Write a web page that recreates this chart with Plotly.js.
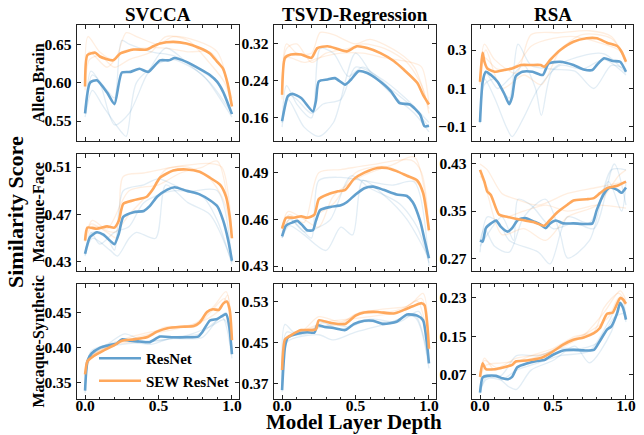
<!DOCTYPE html>
<html>
<head>
<meta charset="utf-8">
<script src="https://cdn.plot.ly/plotly-3.0.1.min.js"></script>
<style>html,body{margin:0;padding:0;background:#fff;}#chart{width:644px;height:435px;}</style>
</head>
<body>
<div id="chart"></div>
<script>
// ---------------- DATA ----------------
const methods = ['SVCCA', 'TSVD-Regression', 'RSA'];
const datasets = ['Allen Brain', 'Macaque-Face', 'Macaque-Synthetic'];
const modelNames = ['ResNet', 'SEW ResNet'];
const xTickVals = [0, 0.5, 1];
const xTickText = ['0.0', '0.5', '1.0'];
const yTickVals = [[0.55, 0.60, 0.65], [0.16, 0.24, 0.32], [-0.1, 0.1, 0.3],
                   [0.43, 0.47, 0.51], [0.43, 0.46, 0.49], [0.27, 0.35, 0.43],
                   [0.35, 0.40, 0.45], [0.37, 0.45, 0.53], [0.07, 0.15, 0.23]];
const yTickText = [['0.55', '0.60', '0.65'], ['0.16', '0.24', '0.32'], ['\u22120.1', '0.1', '0.3'],
                   ['0.43', '0.47', '0.51'], ['0.43', '0.46', '0.49'], ['0.27', '0.35', '0.43'],
                   ['0.35', '0.40', '0.45'], ['0.37', '0.45', '0.53'], ['0.07', '0.15', '0.23']];

// Panel 1: SVCCA / Allen Brain
const svccaAllenResNetX = [0,0.034,0.08,0.15,0.2,0.25,0.31,0.37,0.43,0.51,0.57,0.61,0.69,0.78,0.85,0.9,0.94,1.0];
const svccaAllenResNetY = [0.56,0.60,0.603,0.587,0.572,0.613,0.614,0.618,0.614,0.629,0.629,0.632,0.627,0.618,0.61,0.601,0.588,0.559];
const svccaAllenSewX = [0,0.016,0.07,0.1,0.19,0.24,0.33,0.42,0.46,0.51,0.6,0.69,0.78,0.85,0.9,0.94,0.97,1.0];
const svccaAllenSewY = [0.595,0.636,0.639,0.634,0.629,0.638,0.643,0.643,0.647,0.651,0.653,0.651,0.645,0.638,0.627,0.618,0.599,0.569];
const svccaAllenResNetRunsX = [[0,0.05,0.15,0.2,0.25,0.3,0.45,0.6,0.75,0.9,1],[0,0.05,0.12,0.25,0.28,0.35,0.5,0.6,0.8,0.95,1],[0,0.04,0.1,0.2,0.3,0.42,0.55,0.7,0.85,1]];
const svccaAllenResNetRunsY = [[0.56,0.61,0.59,0.58,0.655,0.65,0.64,0.635,0.62,0.60,0.56],[0.555,0.59,0.57,0.535,0.53,0.60,0.625,0.63,0.61,0.57,0.555],[0.56,0.615,0.60,0.545,0.56,0.61,0.645,0.625,0.60,0.56]];
const svccaAllenSewRunsX = [[0,0.02,0.1,0.2,0.28,0.35,0.5,0.6,0.75,0.9,1],[0,0.03,0.1,0.2,0.3,0.45,0.55,0.7,0.85,0.95,1],[0,0.03,0.15,0.25,0.4,0.55,0.7,0.85,0.93,1]];
const svccaAllenSewRunsY = [[0.60,0.66,0.64,0.63,0.665,0.66,0.65,0.66,0.655,0.64,0.57],[0.59,0.63,0.635,0.62,0.63,0.64,0.66,0.655,0.625,0.60,0.57],[0.60,0.64,0.62,0.64,0.645,0.645,0.64,0.64,0.62,0.58]];

// Panel 2: TSVD-Regression / Allen Brain
const tsvdAllenResNetX = [0,0.04,0.07,0.13,0.21,0.23,0.25,0.31,0.36,0.43,0.47,0.52,0.58,0.65,0.74,0.8,0.87,0.94,0.97,1.0];
const tsvdAllenResNetY = [0.153,0.207,0.212,0.203,0.174,0.196,0.239,0.243,0.246,0.232,0.243,0.261,0.257,0.243,0.218,0.192,0.189,0.167,0.142,0.143];
const tsvdAllenSewX = [0,0.02,0.06,0.13,0.2,0.24,0.31,0.38,0.44,0.51,0.58,0.67,0.76,0.83,0.92,0.96,1.0];
const tsvdAllenSewY = [0.21,0.29,0.297,0.297,0.29,0.311,0.315,0.309,0.304,0.315,0.311,0.30,0.283,0.264,0.236,0.21,0.189];
const tsvdAllenResNetRunsX = [[0,0.03,0.1,0.2,0.26,0.35,0.45,0.55,0.75,0.9,1],[0,0.04,0.15,0.25,0.35,0.5,0.6,0.75,0.9,1],[0,0.04,0.1,0.2,0.28,0.4,0.5,0.65,0.85,1]];
const tsvdAllenResNetRunsY = [[0.15,0.23,0.19,0.16,0.31,0.30,0.25,0.27,0.22,0.18,0.14],[0.14,0.20,0.14,0.12,0.15,0.30,0.26,0.21,0.17,0.13],[0.15,0.21,0.20,0.17,0.19,0.20,0.27,0.25,0.20,0.15]];
const tsvdAllenSewRunsX = [[0,0.03,0.1,0.2,0.26,0.35,0.5,0.6,0.8,0.9,1],[0,0.03,0.1,0.2,0.3,0.45,0.55,0.7,0.85,0.95,1],[0,0.03,0.15,0.25,0.4,0.55,0.7,0.88,0.95,1]];
const tsvdAllenSewRunsY = [[0.21,0.32,0.30,0.30,0.345,0.34,0.32,0.33,0.30,0.27,0.18],[0.20,0.31,0.32,0.28,0.30,0.31,0.32,0.31,0.28,0.23,0.17],[0.21,0.29,0.28,0.29,0.30,0.30,0.29,0.28,0.27,0.19]];

// Panel 3: RSA / Allen Brain
const rsaAllenResNetX = [0,0.018,0.04,0.075,0.12,0.165,0.2,0.22,0.245,0.29,0.36,0.43,0.47,0.55,0.64,0.71,0.77,0.8,0.85,0.91,0.96,1.0];
const rsaAllenResNetY = [-0.074,0.135,0.187,0.17,0.135,0.074,0.018,0.056,0.164,0.187,0.187,0.17,0.23,0.239,0.222,0.199,0.196,0.222,0.257,0.243,0.239,0.187];
const rsaAllenSewX = [0,0.018,0.03,0.05,0.1,0.165,0.22,0.28,0.35,0.415,0.44,0.48,0.55,0.64,0.73,0.8,0.87,0.94,0.97,1.0];
const rsaAllenSewY = [0.135,0.286,0.239,0.204,0.187,0.196,0.204,0.222,0.222,0.222,0.213,0.248,0.30,0.343,0.361,0.361,0.338,0.321,0.291,0.239];
const rsaAllenResNetRunsX = [[0,0.03,0.1,0.18,0.22,0.3,0.4,0.55,0.7,0.85,1],[0,0.03,0.1,0.2,0.26,0.35,0.5,0.65,0.78,0.9,1],[0,0.04,0.12,0.2,0.3,0.38,0.42,0.5,0.7,0.85,1]];
const rsaAllenResNetRunsY = [[-0.08,0.15,0.05,-0.10,-0.15,-0.05,0.10,0.22,0.20,0.25,0.17],[-0.08,0.12,0.15,0.05,0.33,0.22,0.20,0.19,0.10,0.22,0.20],[-0.06,0.18,0.10,0.15,0.22,0.10,-0.04,0.20,0.27,0.28,0.18]];
const rsaAllenSewRunsX = [[0,0.03,0.1,0.25,0.35,0.55,0.75,0.9,1],[0,0.04,0.15,0.3,0.42,0.55,0.7,0.9,1],[0,0.03,0.12,0.25,0.35,0.5,0.65,0.85,0.95,1]];
const rsaAllenSewRunsY = [[0.13,0.33,0.25,0.18,0.38,0.39,0.40,0.37,0.23],[0.12,0.30,0.10,0.17,0.12,0.30,0.38,0.36,0.24],[0.14,0.26,0.20,0.22,0.32,0.36,0.37,0.33,0.30,0.25]];

// Panel 4: SVCCA / Macaque-Face
const svccaFaceResNetX = [0,0.034,0.08,0.125,0.17,0.2,0.23,0.26,0.33,0.4,0.44,0.49,0.56,0.61,0.69,0.78,0.85,0.9,0.94,0.975,1.0];
const svccaFaceResNetY = [0.437,0.451,0.455,0.453,0.448,0.445,0.454,0.468,0.472,0.473,0.477,0.485,0.491,0.493,0.49,0.487,0.482,0.477,0.465,0.448,0.431];
const svccaFaceSewX = [0,0.016,0.08,0.15,0.2,0.23,0.26,0.33,0.42,0.46,0.51,0.6,0.69,0.78,0.85,0.92,0.96,0.985,1.0];
const svccaFaceSewY = [0.448,0.459,0.458,0.46,0.459,0.465,0.479,0.482,0.485,0.491,0.501,0.507,0.508,0.506,0.501,0.495,0.485,0.468,0.45];
const svccaFaceResNetRunsX = [[0,0.05,0.15,0.2,0.26,0.4,0.5,0.7,0.9,1],[0,0.05,0.17,0.22,0.3,0.35,0.48,0.55,0.7,0.85,1],[0,0.04,0.1,0.2,0.3,0.4,0.6,0.8,0.9,1]];
const svccaFaceResNetRunsY = [[0.437,0.455,0.45,0.44,0.49,0.495,0.50,0.49,0.49,0.43],[0.435,0.45,0.44,0.435,0.45,0.455,0.45,0.495,0.48,0.47,0.43],[0.436,0.455,0.445,0.455,0.46,0.48,0.49,0.485,0.465,0.428]];
const svccaFaceSewRunsX = [[0,0.04,0.15,0.22,0.26,0.4,0.6,0.85,0.93,1],[0,0.05,0.2,0.3,0.45,0.55,0.7,0.85,0.95,1],[0,0.05,0.15,0.3,0.5,0.65,0.8,0.9,1]];
const svccaFaceSewRunsY = [[0.448,0.462,0.455,0.45,0.502,0.505,0.51,0.513,0.51,0.455],[0.447,0.46,0.455,0.47,0.49,0.508,0.51,0.50,0.48,0.45],[0.45,0.465,0.458,0.49,0.495,0.505,0.51,0.515,0.45]];

// Panel 5: TSVD-Regression / Macaque-Face
const tsvdFaceResNetX = [0,0.027,0.07,0.105,0.14,0.17,0.21,0.23,0.26,0.33,0.4,0.44,0.5,0.56,0.62,0.69,0.78,0.85,0.89,0.94,0.97,1.0];
const tsvdFaceResNetY = [0.449,0.456,0.458,0.459,0.456,0.453,0.453,0.459,0.466,0.468,0.469,0.471,0.476,0.48,0.481,0.479,0.476,0.475,0.471,0.459,0.447,0.435];
const tsvdFaceSewX = [0,0.027,0.08,0.13,0.17,0.22,0.25,0.31,0.38,0.43,0.49,0.56,0.65,0.71,0.78,0.85,0.92,0.96,1.0];
const tsvdFaceSewY = [0.454,0.461,0.461,0.462,0.461,0.463,0.473,0.476,0.478,0.479,0.486,0.49,0.493,0.493,0.491,0.488,0.485,0.477,0.453];
const tsvdFaceResNetRunsX = [[0,0.05,0.12,0.2,0.25,0.4,0.55,0.75,0.9,1],[0,0.05,0.15,0.3,0.4,0.48,0.55,0.7,0.85,1],[0,0.04,0.15,0.25,0.33,0.47,0.6,0.8,0.92,1]];
const tsvdFaceResNetRunsY = [[0.448,0.46,0.455,0.448,0.485,0.487,0.485,0.482,0.484,0.43],[0.448,0.456,0.45,0.44,0.455,0.45,0.485,0.475,0.46,0.435],[0.45,0.462,0.452,0.455,0.46,0.488,0.48,0.47,0.455,0.432]];
const tsvdFaceSewRunsX = [[0,0.05,0.15,0.25,0.4,0.6,0.88,0.95,1],[0,0.05,0.2,0.35,0.5,0.7,0.85,0.95,1],[0,0.04,0.15,0.25,0.35,0.55,0.75,0.9,1]];
const tsvdFaceSewRunsY = [[0.455,0.463,0.458,0.49,0.492,0.495,0.498,0.49,0.455],[0.452,0.46,0.462,0.47,0.49,0.494,0.488,0.48,0.452],[0.455,0.465,0.46,0.455,0.475,0.488,0.495,0.50,0.455]];

// Panel 6: RSA / Macaque-Face
const rsaFaceResNetX = [0,0.018,0.04,0.075,0.11,0.14,0.19,0.22,0.26,0.31,0.37,0.415,0.45,0.48,0.52,0.57,0.64,0.71,0.77,0.8,0.85,0.89,0.94,0.97,1.0];
const rsaFaceResNetY = [0.30,0.298,0.321,0.329,0.334,0.324,0.315,0.321,0.335,0.338,0.332,0.327,0.321,0.329,0.334,0.329,0.329,0.328,0.329,0.352,0.38,0.39,0.386,0.381,0.39];
const rsaFaceSewX = [0,0.03,0.05,0.075,0.13,0.19,0.28,0.37,0.44,0.48,0.53,0.6,0.64,0.73,0.78,0.82,0.87,0.94,1.0];
const rsaFaceSewY = [0.42,0.40,0.383,0.377,0.344,0.34,0.335,0.331,0.325,0.335,0.348,0.361,0.368,0.37,0.372,0.38,0.389,0.393,0.40];
const rsaFaceResNetRunsX = [[0,0.03,0.1,0.2,0.3,0.45,0.55,0.6,0.75,0.9,1],[0,0.05,0.15,0.23,0.26,0.35,0.5,0.65,0.78,0.92,1],[0,0.05,0.13,0.2,0.4,0.48,0.6,0.75,0.88,0.97,1]];
const rsaFaceResNetRunsY = [[0.30,0.32,0.29,0.28,0.34,0.37,0.31,0.27,0.30,0.42,0.42],[0.29,0.31,0.34,0.30,0.37,0.36,0.32,0.33,0.32,0.43,0.36],[0.28,0.34,0.33,0.30,0.28,0.26,0.34,0.33,0.40,0.35,0.40]];
const rsaFaceSewRunsX = [[0,0.05,0.15,0.25,0.4,0.6,0.8,1],[0,0.05,0.15,0.3,0.45,0.6,0.8,0.95,1],[0,0.05,0.15,0.3,0.45,0.6,0.8,1]];
const rsaFaceSewRunsY = [[0.43,0.42,0.38,0.37,0.36,0.38,0.39,0.40],[0.42,0.38,0.31,0.32,0.30,0.34,0.36,0.41,0.42],[0.41,0.39,0.34,0.35,0.36,0.35,0.36,0.355]];

// Panel 7: SVCCA / Macaque-Synthetic
const svccaSynthResNetX = [0,0.016,0.045,0.1,0.17,0.215,0.25,0.31,0.37,0.44,0.51,0.6,0.69,0.77,0.8,0.85,0.9,0.93,0.96,0.98,1.0];
const svccaSynthResNetY = [0.339,0.381,0.392,0.40,0.404,0.406,0.412,0.41,0.409,0.408,0.416,0.415,0.415,0.416,0.423,0.439,0.441,0.445,0.448,0.433,0.391];
const svccaSynthSewX = [0,0.016,0.057,0.125,0.2,0.25,0.33,0.42,0.49,0.56,0.65,0.74,0.78,0.83,0.87,0.91,0.94,0.965,0.985,1.0];
const svccaSynthSewY = [0.362,0.381,0.388,0.396,0.404,0.41,0.412,0.415,0.423,0.428,0.43,0.431,0.436,0.451,0.455,0.454,0.463,0.466,0.454,0.411];
const svccaSynthResNetRunsX = [[0,0.03,0.1,0.25,0.45,0.6,0.78,0.9,0.96,1],[0,0.04,0.15,0.27,0.4,0.6,0.8,0.93,1],[0,0.03,0.1,0.25,0.5,0.7,0.85,0.95,1]];
const svccaSynthResNetRunsY = [[0.335,0.39,0.40,0.41,0.405,0.415,0.42,0.44,0.45,0.39],[0.34,0.395,0.405,0.42,0.41,0.413,0.415,0.445,0.385],[0.342,0.385,0.398,0.405,0.41,0.418,0.43,0.44,0.395]];
const svccaSynthSewRunsX = [[0,0.03,0.15,0.3,0.5,0.75,0.88,0.96,1],[0,0.05,0.2,0.35,0.55,0.75,0.85,0.95,1],[0,0.04,0.12,0.27,0.45,0.65,0.82,0.92,0.97,1]];
const svccaSynthSewRunsY = [[0.362,0.385,0.40,0.415,0.425,0.435,0.46,0.48,0.41],[0.36,0.39,0.405,0.41,0.43,0.43,0.45,0.47,0.415],[0.365,0.388,0.398,0.41,0.42,0.428,0.44,0.455,0.475,0.41]];

// Panel 8: TSVD-Regression / Macaque-Synthetic
const tsvdSynthResNetX = [0,0.02,0.04,0.105,0.17,0.22,0.24,0.29,0.35,0.43,0.49,0.56,0.62,0.69,0.78,0.85,0.92,0.96,0.985,1.0];
const tsvdSynthResNetY = [0.358,0.442,0.46,0.467,0.47,0.469,0.483,0.48,0.478,0.474,0.486,0.492,0.492,0.486,0.49,0.504,0.502,0.493,0.451,0.41];
const tsvdSynthSewX = [0,0.02,0.06,0.13,0.2,0.23,0.25,0.33,0.43,0.5,0.56,0.65,0.76,0.83,0.89,0.95,0.97,0.99,1.0];
const tsvdSynthSewY = [0.397,0.456,0.464,0.474,0.474,0.475,0.493,0.488,0.486,0.502,0.508,0.509,0.506,0.513,0.52,0.526,0.522,0.48,0.438];
const tsvdSynthResNetRunsX = [[0,0.03,0.1,0.2,0.25,0.4,0.55,0.75,0.9,1],[0,0.03,0.1,0.25,0.35,0.5,0.7,0.9,1],[0,0.02,0.08,0.2,0.35,0.45,0.6,0.8,0.93,1]];
const tsvdSynthResNetRunsY = [[0.36,0.47,0.465,0.47,0.49,0.475,0.49,0.49,0.505,0.41],[0.355,0.45,0.46,0.465,0.455,0.47,0.485,0.50,0.40],[0.36,0.485,0.47,0.475,0.485,0.48,0.495,0.49,0.51,0.41]];
const tsvdSynthSewRunsX = [[0,0.03,0.15,0.25,0.4,0.55,0.75,0.88,0.96,1],[0,0.03,0.12,0.25,0.4,0.5,0.7,0.85,0.95,1],[0,0.04,0.1,0.3,0.45,0.6,0.8,0.92,1]];
const tsvdSynthSewRunsY = [[0.40,0.46,0.475,0.50,0.49,0.51,0.51,0.525,0.545,0.44],[0.395,0.455,0.47,0.48,0.485,0.505,0.515,0.52,0.535,0.435],[0.40,0.46,0.468,0.49,0.495,0.50,0.51,0.53,0.44]];

// Panel 9: RSA / Macaque-Synthetic
const rsaSynthResNetX = [0,0.018,0.05,0.11,0.155,0.19,0.22,0.255,0.32,0.39,0.44,0.5,0.57,0.64,0.71,0.78,0.82,0.87,0.9,0.94,0.96,0.98,1.0];
const rsaSynthResNetY = [0.033,0.065,0.068,0.068,0.063,0.061,0.066,0.086,0.094,0.099,0.101,0.112,0.121,0.122,0.121,0.122,0.14,0.164,0.171,0.199,0.22,0.209,0.185];
const rsaSynthSewX = [0,0.018,0.04,0.1,0.165,0.22,0.245,0.32,0.415,0.48,0.57,0.64,0.71,0.78,0.82,0.87,0.91,0.96,0.98,1.0];
const rsaSynthSewY = [0.066,0.094,0.082,0.082,0.086,0.091,0.098,0.10,0.105,0.115,0.133,0.143,0.148,0.157,0.167,0.197,0.20,0.23,0.227,0.218];
const rsaSynthResNetRunsX = [[0,0.03,0.12,0.2,0.25,0.35,0.5,0.65,0.75,0.9,0.96,1],[0,0.04,0.15,0.25,0.4,0.55,0.7,0.82,0.92,1],[0,0.04,0.15,0.25,0.4,0.55,0.75,0.88,0.97,1]];
const rsaSynthResNetRunsY = [[0.035,0.07,0.065,0.045,0.04,0.08,0.10,0.13,0.095,0.16,0.22,0.18],[0.035,0.06,0.07,0.11,0.11,0.125,0.125,0.14,0.19,0.20],[0.03,0.065,0.06,0.08,0.095,0.11,0.12,0.18,0.23,0.19]];
const rsaSynthSewRunsX = [[0,0.03,0.1,0.2,0.35,0.5,0.65,0.78,0.85,0.95,1],[0,0.04,0.15,0.3,0.5,0.7,0.85,0.96,1],[0,0.03,0.12,0.25,0.45,0.6,0.75,0.88,0.95,1]];
const rsaSynthSewRunsY = [[0.065,0.105,0.08,0.09,0.11,0.125,0.15,0.16,0.21,0.24,0.22],[0.06,0.09,0.095,0.10,0.12,0.15,0.20,0.245,0.225],[0.07,0.10,0.085,0.105,0.115,0.14,0.16,0.19,0.23,0.215]];

const mainX = [
  [svccaAllenResNetX, svccaAllenSewX], [tsvdAllenResNetX, tsvdAllenSewX], [rsaAllenResNetX, rsaAllenSewX],
  [svccaFaceResNetX, svccaFaceSewX], [tsvdFaceResNetX, tsvdFaceSewX], [rsaFaceResNetX, rsaFaceSewX],
  [svccaSynthResNetX, svccaSynthSewX], [tsvdSynthResNetX, tsvdSynthSewX], [rsaSynthResNetX, rsaSynthSewX]];
const mainY = [
  [svccaAllenResNetY, svccaAllenSewY], [tsvdAllenResNetY, tsvdAllenSewY], [rsaAllenResNetY, rsaAllenSewY],
  [svccaFaceResNetY, svccaFaceSewY], [tsvdFaceResNetY, tsvdFaceSewY], [rsaFaceResNetY, rsaFaceSewY],
  [svccaSynthResNetY, svccaSynthSewY], [tsvdSynthResNetY, tsvdSynthSewY], [rsaSynthResNetY, rsaSynthSewY]];
const runsX = [
  [svccaAllenResNetRunsX, svccaAllenSewRunsX], [tsvdAllenResNetRunsX, tsvdAllenSewRunsX], [rsaAllenResNetRunsX, rsaAllenSewRunsX],
  [svccaFaceResNetRunsX, svccaFaceSewRunsX], [tsvdFaceResNetRunsX, tsvdFaceSewRunsX], [rsaFaceResNetRunsX, rsaFaceSewRunsX],
  [svccaSynthResNetRunsX, svccaSynthSewRunsX], [tsvdSynthResNetRunsX, tsvdSynthSewRunsX], [rsaSynthResNetRunsX, rsaSynthSewRunsX]];
const runsY = [
  [svccaAllenResNetRunsY, svccaAllenSewRunsY], [tsvdAllenResNetRunsY, tsvdAllenSewRunsY], [rsaAllenResNetRunsY, rsaAllenSewRunsY],
  [svccaFaceResNetRunsY, svccaFaceSewRunsY], [tsvdFaceResNetRunsY, tsvdFaceSewRunsY], [rsaFaceResNetRunsY, rsaFaceSewRunsY],
  [svccaSynthResNetRunsY, svccaSynthSewRunsY], [tsvdSynthResNetRunsY, tsvdSynthSewRunsY], [rsaSynthResNetRunsY, rsaSynthSewRunsY]];

// ---------------- STYLE / LAYOUT ----------------
const W = 644, H = 435;
const FONT = 'Liberation Serif';
const mainColors = ['rgb(98,160,206)', 'rgb(255,168,92)'];
const runColors = ['rgba(31,119,180,0.13)', 'rgba(255,127,14,0.13)'];
const colPx = [[77, 239], [274, 436], [472, 633]];
const rowPx = [[25, 141], [154, 271], [284, 399]];
const yRanges = [[0.524, 0.675], [0.11, 0.361], [-0.173, 0.43],
                 [0.4224, 0.521], [0.4268, 0.502], [0.248, 0.447],
                 [0.327, 0.491], [0.341, 0.563], [0.02, 0.259]];

const traces = [];
const layout = {
  width: W, height: H,
  margin: {l: 0, r: 0, t: 0, b: 0},
  paper_bgcolor: '#fff', plot_bgcolor: '#fff',
  font: {family: FONT, color: '#000', weight: 'bold'},
  showlegend: true,
  legend: {x: 94 / W, y: 1 - 342 / H, xanchor: 'left', yanchor: 'top',
           bgcolor: 'rgba(0,0,0,0)', borderwidth: 0,
           font: {family: FONT, size: 15, color: '#000', weight: 'bold'},
           tracegroupgap: 0, itemwidth: 42},
  annotations: [],
  hovermode: false
};

for (let i = 0; i < 9; i++) {
  const r = Math.floor(i / 3), c = i % 3;
  const xa = 'x' + (i ? i + 1 : ''), ya = 'y' + (i ? i + 1 : '');
  for (let m = 0; m < 2; m++) {
    runsX[i][m].forEach((xs, k) => {
      traces.push({x: xs, y: runsY[i][m][k], xaxis: xa, yaxis: ya, mode: 'lines',
        line: {color: runColors[m], width: 1.3, shape: 'spline', smoothing: 0.8},
        showlegend: false, hoverinfo: 'skip'});
    });
  }
  for (let m = 0; m < 2; m++) {
    traces.push({x: mainX[i][m], y: mainY[i][m], xaxis: xa, yaxis: ya, mode: 'lines',
      name: modelNames[m], line: {color: mainColors[m], width: 2.6, shape: 'spline', smoothing: 0.6},
      showlegend: i === 6, legendrank: m + 1});
  }
  const axBase = {showline: true, linecolor: '#222', linewidth: 1.4, mirror: 'ticks',
    ticks: 'inside', ticklen: 4, tickwidth: 1, tickcolor: '#222',
    showgrid: false, zeroline: false, fixedrange: true,
    tickfont: {family: FONT, size: 15.5, color: '#000', weight: 'bold'}};
  layout['xaxis' + (i ? i + 1 : '')] = Object.assign({}, axBase, {
    domain: [colPx[c][0] / W, colPx[c][1] / W], anchor: ya,
    range: [-0.055, 1.048], tickvals: xTickVals, ticktext: xTickText,
    showticklabels: r === 2, ticklabelstandoff: -8,
    minor: {ticks: 'inside', ticklen: 2.5, tickwidth: 1, tickcolor: '#222', dtick: 0.1, tick0: 0}
  });
  layout['yaxis' + (i ? i + 1 : '')] = Object.assign({}, axBase, {
    domain: [1 - rowPx[r][1] / H, 1 - rowPx[r][0] / H], anchor: xa,
    range: yRanges[i], tickvals: yTickVals[i], ticktext: yTickText[i], ticklabelstandoff: 1
  });
}

methods.forEach((t, c) => layout.annotations.push({
  text: t, xref: 'paper', yref: 'paper', x: (colPx[c][0] + colPx[c][1]) / 2 / W, y: 1 - 14 / H,
  xanchor: 'center', yanchor: 'middle', showarrow: false,
  font: {family: FONT, size: 19, color: '#000', weight: 'bold'}}));
datasets.forEach((t, r) => layout.annotations.push({
  text: t, xref: 'paper', yref: 'paper', x: 38 / W, y: 1 - (rowPx[r][0] + rowPx[r][1]) / 2 / H,
  xanchor: 'center', yanchor: 'middle', textangle: -90, showarrow: false,
  font: {family: FONT, size: 16, color: '#000', weight: 'bold'}}));
layout.annotations.push({text: 'Similarity Score', xref: 'paper', yref: 'paper', x: 16 / W, y: 1 - 212 / H,
  xanchor: 'center', yanchor: 'middle', textangle: -90, showarrow: false,
  font: {family: FONT, size: 22, color: '#000', weight: 'bold'}});
layout.annotations.push({text: 'Model Layer Depth', xref: 'paper', yref: 'paper', x: 354 / W, y: 0,
  xanchor: 'center', yanchor: 'bottom', showarrow: false, borderpad: 0,
  font: {family: FONT, size: 21, color: '#000', weight: 'bold'}});

Plotly.newPlot('chart', traces, layout, {displayModeBar: false, staticPlot: true});
</script>
</body>
</html>
